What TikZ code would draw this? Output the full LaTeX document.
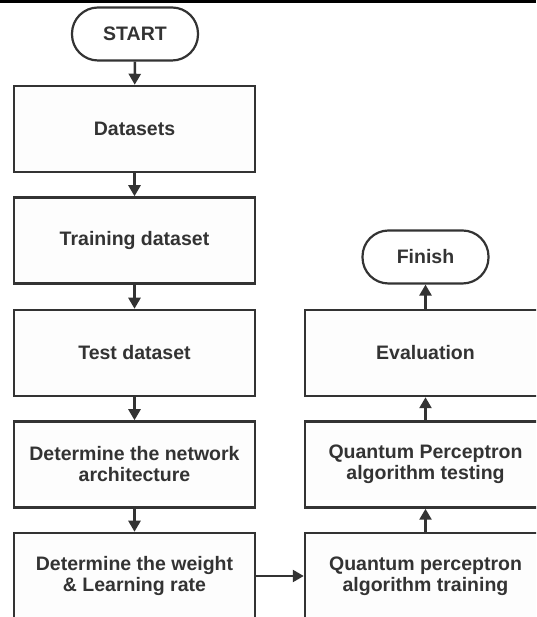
\documentclass[tikz,border=0pt]{standalone}
\usepackage{fontspec}
\setmainfont{Liberation Sans}
\usetikzlibrary{arrows.meta}
\definecolor{ink}{HTML}{333333}
\definecolor{boxfill}{HTML}{FDFDFD}
\tikzset{
  flowbox/.style={draw=ink, line width=2.5pt, fill=boxfill, minimum width=241pt, minimum height=86pt,
    inner sep=0pt, align=center, text=ink, font=\fontsize{19.5}{21}\selectfont\bfseries},
  term/.style={draw=ink, line width=2.2pt, fill=white, rounded corners=26pt, minimum width=126pt, minimum height=53pt,
    inner sep=0pt, align=center, text=ink, font=\fontsize{19.5}{21}\selectfont\bfseries},
  flowarrow/.style={draw=ink, line width=2.5pt, -{Triangle[length=11pt,width=12pt]}}
}
\begin{document}
\begin{tikzpicture}[x=1pt,y=1pt]
\useasboundingbox (0,0) rectangle (536,617);
\clip (0,0) rectangle (536,617);
\fill[white] (0,0) rectangle (536,617);
\fill[black] (0,614) rectangle (536,617);
% left column
\node[term] (start) at (135,583) {START};
\node[flowbox] (ds) at (134.5,488) {Datasets};
\node[flowbox] (train) at (134.5,376.5) {Training dataset};
\node[flowbox] (test) at (134.5,264) {Test dataset};
\node[flowbox] (net) at (134.5,152.5) {Determine the network\\architecture};
\node[flowbox] (wt) at (134.5,41) {Determine the weight\\\& Learning rate};
% right column
\node[flowbox] (qtrain) at (425.5,41) {Quantum perceptron\\algorithm training};
\node[flowbox] (qtest) at (425.5,152.5) {Quantum Perceptron\\algorithm testing};
\node[flowbox] (eval) at (425.5,264) {Evaluation};
\node[term] (finish) at (425.5,360) {Finish};
% connectors
\draw[flowarrow] (start) -- (ds);
\draw[flowarrow] (ds) -- (train);
\draw[flowarrow] (train) -- (test);
\draw[flowarrow] (test) -- (net);
\draw[flowarrow] (net) -- (wt);
\draw[flowarrow] (wt.east) -- (qtrain.west);
\draw[flowarrow] (qtrain) -- (qtest);
\draw[flowarrow] (qtest) -- (eval);
\draw[flowarrow] (eval) -- (finish);
\end{tikzpicture}
\end{document}
